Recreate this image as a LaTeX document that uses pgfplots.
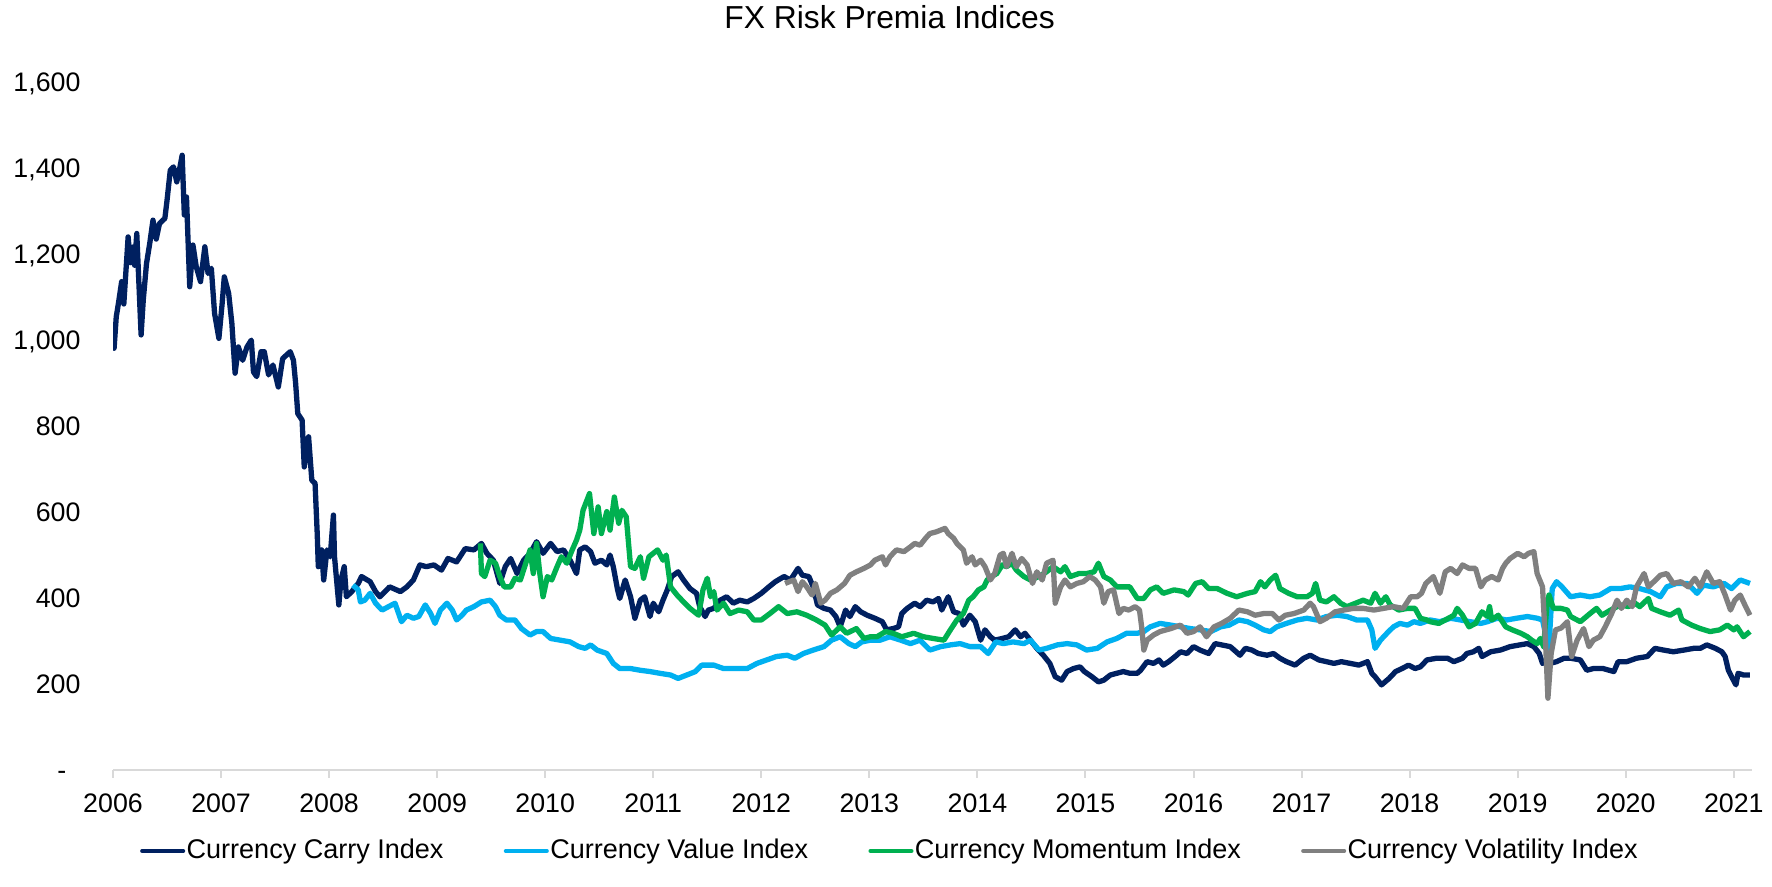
\documentclass[border=0pt]{standalone}
\usepackage{fontspec}
\setmainfont{Liberation Sans}
\usepackage{pgfplots}
\pgfplotsset{compat=1.18}
\definecolor{carry}{HTML}{002060}
\definecolor{value}{HTML}{00B0F0}
\definecolor{mom}{HTML}{00B050}
\definecolor{vol}{HTML}{808080}
\definecolor{axisgray}{HTML}{D9D9D9}
\begin{document}
\begin{tikzpicture}
\useasboundingbox (-42.65pt,-43.78pt) rectangle (626.1pt,290.6pt);
\begin{axis}[
  scale only axis,
  width=618.6pt, height=259.6pt,
  xmin=2006, xmax=2021.17,
  ymin=0, ymax=1600,
  axis x line*=bottom,
  axis y line*=left,
  x axis line style={draw=axisgray, line width=0.75pt},
  y axis line style={draw=none},
  tick align=outside,
  major tick length=3pt,
  xtick={2006,2007,2008,2009,2010,2011,2012,2013,2014,2015,2016,2017,2018,2019,2020,2021},
  xticklabels={2006,2007,2008,2009,2010,2011,2012,2013,2014,2015,2016,2017,2018,2019,2020,2021},
  xtick style={draw=axisgray, line width=0.75pt},
  ytick={0,200,400,600,800,1000,1200,1400,1600},
  yticklabels={{-\hspace*{5.3pt}},200,400,600,800,{1,000},{1,200},{1,400},{1,600}},
  ytick style={draw=none},
  tick label style={font=\fontsize{10.1}{12}\selectfont, text=black},
  xticklabel style={inner sep=0pt, yshift=-5.7pt},
  yticklabel style={inner sep=0pt, anchor=base east, xshift=-9.1pt, yshift=-3.6pt},
  title={FX Risk Premia Indices},
  title style={font=\fontsize{12}{14}\selectfont, at={(0.4738,1.0552)}, anchor=base, yshift=0pt},
  legend columns=4,
  legend style={at={(0.4738,-0.1177)}, anchor=center, draw=none, fill=none,
    font=\fontsize{10.2}{12}\selectfont, inner sep=0pt,
    nodes={inner sep=0.55pt},
    /tikz/every even column/.append style={column sep=22.2pt}},
  legend image code/.code={\draw[#1, line width=1.4pt, line cap=round] (0.3pt,0pt) -- (15.9pt,0pt);},
  every axis plot/.append style={line width=2.0pt, line join=round, no markers},
]
\addplot[carry] table {
2006.00 1000
2006.01 981
2006.03 1054
2006.05 1085
2006.08 1136
2006.10 1084
2006.14 1240
2006.16 1180
2006.19 1217
2006.20 1174
2006.22 1248
2006.26 1012
2006.28 1093
2006.31 1178
2006.34 1225
2006.37 1279
2006.40 1235
2006.43 1271
2006.48 1283
2006.50 1325
2006.53 1395
2006.56 1403
2006.59 1368
2006.62 1403
2006.64 1430
2006.66 1291
2006.68 1333
2006.71 1124
2006.74 1221
2006.77 1171
2006.81 1136
2006.85 1217
2006.88 1155
2006.91 1167
2006.94 1062
2006.98 1004
2007.01 1085
2007.03 1147
2007.07 1109
2007.10 1039
2007.13 923
2007.16 984
2007.20 953
2007.24 984
2007.28 1000
2007.30 926
2007.33 915
2007.37 973
2007.40 973
2007.44 919
2007.48 942
2007.53 891
2007.57 957
2007.64 973
2007.67 953
2007.69 900
2007.71 829
2007.75 814
2007.77 705
2007.81 775
2007.84 674
2007.87 667
2007.89 550
2007.90 473
2007.93 512
2007.95 442
2007.98 512
2008.01 496
2008.04 593
2008.05 496
2008.09 384
2008.11 442
2008.14 473
2008.16 403
2008.21 415
2008.27 434
2008.30 450
2008.38 438
2008.43 415
2008.47 403
2008.56 426
2008.66 415
2008.72 426
2008.78 442
2008.84 477
2008.90 473
2008.97 477
2009.04 465
2009.10 492
2009.18 484
2009.26 515
2009.34 512
2009.41 527
2009.46 504
2009.52 488
2009.58 434
2009.63 473
2009.68 492
2009.74 457
2009.80 488
2009.86 504
2009.92 531
2009.98 504
2010.05 527
2010.11 508
2010.17 512
2010.23 488
2010.29 457
2010.32 512
2010.37 519
2010.42 508
2010.46 481
2010.52 488
2010.57 477
2010.60 500
2010.63 473
2010.67 419
2010.69 399
2010.74 442
2010.79 403
2010.83 353
2010.88 395
2010.92 403
2010.97 357
2011.00 388
2011.05 368
2011.09 395
2011.13 419
2011.17 450
2011.23 461
2011.28 442
2011.34 422
2011.40 411
2011.43 380
2011.48 357
2011.51 372
2011.56 376
2011.62 395
2011.68 403
2011.74 388
2011.80 395
2011.87 391
2011.93 399
2012.00 411
2012.07 426
2012.13 438
2012.21 450
2012.27 442
2012.34 469
2012.38 453
2012.44 450
2012.48 426
2012.52 384
2012.58 376
2012.64 372
2012.69 357
2012.73 333
2012.78 372
2012.82 357
2012.87 380
2012.92 368
2012.98 360
2013.05 353
2013.12 345
2013.16 326
2013.22 329
2013.27 333
2013.30 364
2013.35 376
2013.42 388
2013.47 380
2013.53 395
2013.59 391
2013.64 399
2013.67 372
2013.73 403
2013.78 368
2013.83 364
2013.87 337
2013.93 360
2013.98 345
2014.03 302
2014.07 326
2014.12 310
2014.16 302
2014.23 306
2014.29 310
2014.35 326
2014.40 310
2014.44 318
2014.49 302
2014.55 283
2014.61 267
2014.67 248
2014.72 217
2014.78 209
2014.83 229
2014.89 236
2014.95 240
2014.99 229
2015.06 217
2015.12 205
2015.17 209
2015.23 221
2015.29 225
2015.35 229
2015.41 225
2015.48 225
2015.51 232
2015.57 252
2015.63 248
2015.68 256
2015.72 244
2015.77 252
2015.83 264
2015.88 275
2015.94 271
2016.00 287
2016.06 279
2016.14 271
2016.20 294
2016.26 291
2016.34 287
2016.43 267
2016.48 283
2016.54 279
2016.60 271
2016.68 267
2016.74 271
2016.80 260
2016.86 252
2016.94 244
2017.02 260
2017.08 267
2017.16 256
2017.23 252
2017.30 248
2017.37 252
2017.45 248
2017.53 244
2017.61 252
2017.65 225
2017.68 217
2017.74 198
2017.81 213
2017.87 229
2017.93 236
2017.99 244
2018.05 236
2018.10 240
2018.16 256
2018.25 260
2018.35 260
2018.41 252
2018.49 260
2018.53 271
2018.59 275
2018.64 283
2018.67 264
2018.75 275
2018.84 279
2018.93 287
2019.02 291
2019.09 294
2019.15 287
2019.20 271
2019.23 248
2019.26 252
2019.30 248
2019.36 252
2019.43 260
2019.49 260
2019.58 256
2019.64 232
2019.70 236
2019.79 236
2019.89 229
2019.93 252
2020.01 252
2020.10 260
2020.20 264
2020.27 283
2020.35 279
2020.44 275
2020.54 279
2020.63 283
2020.69 283
2020.75 291
2020.83 283
2020.89 275
2020.92 264
2020.95 232
2020.98 217
2021.02 198
2021.04 225
2021.09 221
2021.15 221
};
\addlegendentry{Currency Carry Index}
\addplot[value] table {
2008.22 430
2008.27 419
2008.29 391
2008.33 395
2008.38 411
2008.43 388
2008.49 372
2008.55 380
2008.61 388
2008.67 345
2008.72 360
2008.78 353
2008.83 357
2008.89 384
2008.94 364
2008.98 341
2009.03 372
2009.09 388
2009.14 372
2009.18 349
2009.23 360
2009.27 372
2009.34 380
2009.41 391
2009.49 395
2009.54 380
2009.58 360
2009.64 349
2009.72 349
2009.78 329
2009.86 314
2009.92 322
2009.98 322
2010.05 306
2010.14 302
2010.23 298
2010.31 287
2010.37 283
2010.42 291
2010.48 279
2010.57 271
2010.63 248
2010.69 236
2010.79 236
2010.88 232
2010.97 229
2011.06 225
2011.16 221
2011.23 213
2011.31 221
2011.39 229
2011.45 244
2011.56 244
2011.65 236
2011.74 236
2011.87 236
2011.96 248
2012.05 256
2012.14 264
2012.24 267
2012.31 260
2012.39 271
2012.48 279
2012.58 287
2012.65 302
2012.73 310
2012.81 294
2012.87 287
2012.93 298
2013.01 302
2013.10 302
2013.19 310
2013.29 302
2013.38 294
2013.47 302
2013.56 279
2013.66 287
2013.75 291
2013.84 294
2013.93 287
2014.03 287
2014.10 271
2014.17 298
2014.24 294
2014.33 298
2014.43 294
2014.49 302
2014.57 279
2014.64 283
2014.74 291
2014.83 294
2014.92 291
2015.01 279
2015.11 283
2015.20 298
2015.29 306
2015.38 318
2015.48 318
2015.54 322
2015.60 333
2015.69 341
2015.79 337
2015.88 333
2015.97 329
2016.06 326
2016.16 322
2016.25 333
2016.33 337
2016.42 349
2016.50 345
2016.57 337
2016.65 326
2016.71 322
2016.77 333
2016.86 341
2016.96 349
2017.05 353
2017.14 349
2017.23 357
2017.33 360
2017.42 357
2017.51 349
2017.61 349
2017.65 326
2017.68 283
2017.73 302
2017.79 318
2017.85 333
2017.91 341
2017.98 337
2018.04 345
2018.10 341
2018.19 349
2018.28 345
2018.38 353
2018.47 349
2018.56 345
2018.66 341
2018.72 345
2018.81 353
2018.90 349
2018.99 353
2019.09 357
2019.18 353
2019.23 349
2019.27 302
2019.29 283
2019.30 333
2019.32 422
2019.36 438
2019.41 426
2019.49 403
2019.58 407
2019.67 403
2019.76 407
2019.86 422
2019.95 422
2020.04 426
2020.13 422
2020.23 415
2020.32 403
2020.38 426
2020.47 434
2020.57 434
2020.66 411
2020.72 430
2020.81 426
2020.91 434
2020.98 422
2021.06 442
2021.15 434
};
\addlegendentry{Currency Value Index}
\addplot[mom] table {
2009.40 527
2009.41 457
2009.44 450
2009.49 488
2009.54 481
2009.58 450
2009.62 426
2009.68 426
2009.72 446
2009.77 442
2009.81 473
2009.86 512
2009.89 457
2009.92 527
2009.95 457
2009.98 403
2010.02 450
2010.06 442
2010.11 473
2010.15 496
2010.20 481
2010.25 512
2010.29 535
2010.32 558
2010.35 604
2010.41 643
2010.45 550
2010.49 612
2010.52 550
2010.57 601
2010.60 558
2010.64 635
2010.68 574
2010.71 604
2010.75 589
2010.79 473
2010.83 469
2010.88 496
2010.91 446
2010.96 496
2011.00 504
2011.04 512
2011.09 488
2011.12 500
2011.16 426
2011.22 407
2011.28 391
2011.34 376
2011.42 360
2011.46 419
2011.50 446
2011.53 403
2011.56 415
2011.59 372
2011.65 388
2011.71 364
2011.79 372
2011.87 368
2011.93 349
2012.00 349
2012.08 364
2012.16 380
2012.24 364
2012.33 368
2012.42 360
2012.51 349
2012.59 337
2012.65 314
2012.73 333
2012.79 318
2012.88 329
2012.95 306
2013.01 310
2013.07 310
2013.15 322
2013.22 318
2013.30 310
2013.41 318
2013.50 310
2013.59 306
2013.69 302
2013.75 326
2013.81 349
2013.87 364
2013.92 395
2013.96 403
2014.01 419
2014.06 426
2014.09 442
2014.13 450
2014.18 457
2014.23 477
2014.27 473
2014.32 481
2014.36 465
2014.43 450
2014.49 442
2014.57 450
2014.64 461
2014.70 473
2014.77 461
2014.81 473
2014.86 450
2014.94 457
2015.01 457
2015.08 461
2015.12 481
2015.17 450
2015.23 442
2015.29 426
2015.35 426
2015.41 426
2015.48 399
2015.54 399
2015.60 419
2015.66 426
2015.72 411
2015.82 419
2015.91 415
2015.95 407
2016.02 434
2016.08 438
2016.14 422
2016.22 422
2016.31 411
2016.40 403
2016.50 411
2016.57 415
2016.62 438
2016.66 426
2016.71 442
2016.76 453
2016.80 422
2016.88 411
2016.96 403
2017.05 403
2017.10 411
2017.13 434
2017.17 395
2017.23 391
2017.30 403
2017.36 388
2017.42 380
2017.50 388
2017.57 395
2017.64 388
2017.68 411
2017.73 388
2017.78 403
2017.82 384
2017.90 372
2017.98 376
2018.05 376
2018.10 353
2018.16 349
2018.19 345
2018.27 341
2018.33 349
2018.41 360
2018.44 376
2018.49 360
2018.55 333
2018.61 341
2018.67 368
2018.72 357
2018.74 380
2018.76 349
2018.82 360
2018.89 333
2018.95 326
2019.03 318
2019.09 310
2019.13 302
2019.18 294
2019.21 306
2019.24 287
2019.27 380
2019.29 407
2019.33 376
2019.40 376
2019.46 372
2019.49 357
2019.58 345
2019.67 364
2019.73 376
2019.78 360
2019.86 372
2019.95 384
2020.03 380
2020.07 391
2020.13 380
2020.21 399
2020.24 376
2020.32 368
2020.41 360
2020.49 372
2020.52 349
2020.61 337
2020.69 329
2020.78 322
2020.87 326
2020.94 337
2021.00 326
2021.03 333
2021.09 310
2021.15 322
};
\addlegendentry{Currency Momentum Index}
\addplot[vol] table {
2012.22 434
2012.30 442
2012.34 415
2012.38 438
2012.42 426
2012.47 407
2012.50 434
2012.55 388
2012.59 395
2012.64 411
2012.70 419
2012.77 434
2012.82 453
2012.88 461
2012.95 469
2013.01 477
2013.05 488
2013.12 496
2013.15 477
2013.19 496
2013.25 512
2013.32 508
2013.38 519
2013.42 527
2013.47 523
2013.52 539
2013.56 550
2013.62 554
2013.70 562
2013.73 550
2013.78 539
2013.81 527
2013.84 519
2013.87 512
2013.90 481
2013.95 496
2013.98 477
2014.03 488
2014.07 473
2014.12 442
2014.16 457
2014.21 500
2014.24 504
2014.27 473
2014.32 504
2014.36 473
2014.41 492
2014.46 477
2014.51 434
2014.55 461
2014.60 442
2014.64 481
2014.70 488
2014.72 388
2014.77 426
2014.81 442
2014.86 426
2014.92 434
2014.98 438
2015.04 450
2015.09 442
2015.14 426
2015.17 388
2015.21 415
2015.26 419
2015.31 364
2015.35 376
2015.40 372
2015.46 380
2015.50 372
2015.52 333
2015.54 279
2015.57 302
2015.63 314
2015.69 322
2015.79 329
2015.88 337
2015.94 318
2016.00 322
2016.06 333
2016.12 310
2016.19 333
2016.26 341
2016.34 353
2016.42 372
2016.50 368
2016.57 360
2016.65 364
2016.73 364
2016.79 349
2016.85 360
2016.93 364
2017.02 372
2017.08 388
2017.11 380
2017.17 345
2017.23 353
2017.31 368
2017.39 372
2017.48 376
2017.57 376
2017.67 372
2017.76 376
2017.85 380
2017.94 376
2018.01 403
2018.07 403
2018.11 411
2018.15 434
2018.22 450
2018.28 411
2018.33 461
2018.38 469
2018.44 457
2018.49 477
2018.55 469
2018.61 469
2018.66 426
2018.70 442
2018.76 450
2018.82 442
2018.86 469
2018.89 481
2018.93 492
2019.00 504
2019.06 496
2019.10 504
2019.15 508
2019.18 457
2019.23 426
2019.26 287
2019.28 167
2019.31 271
2019.35 326
2019.40 330
2019.46 345
2019.50 264
2019.55 302
2019.61 329
2019.66 287
2019.70 302
2019.76 310
2019.81 333
2019.87 364
2019.92 395
2019.96 376
2020.01 395
2020.06 380
2020.10 426
2020.17 457
2020.21 426
2020.26 438
2020.32 453
2020.38 457
2020.44 434
2020.51 438
2020.58 426
2020.64 446
2020.69 426
2020.75 461
2020.81 434
2020.87 438
2020.92 407
2020.97 372
2021.01 395
2021.06 407
2021.11 380
2021.15 360
};
\addlegendentry{Currency Volatility Index}
\end{axis}
\end{tikzpicture}
\end{document}
